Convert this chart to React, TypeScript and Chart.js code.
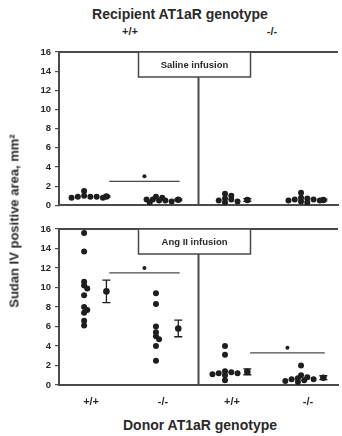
import React, { useEffect, useRef } from "react";
import { Chart, registerables } from "chart.js";
Chart.register(...registerables);

// ---------- data ----------
const donorLabels = ["+/+", "-/-", "+/+", "-/-"];
const recipientLabels = ["+/+", "-/-"];
const groupCenters = [0.36, 1.39, 2.38, 3.47];
const meanOffset = 0.32;
const yMax = 16;

// Saline infusion panel
const salineWtDonorWtRec = [0.9, 0.8, 1.0, 1.5, 0.9, 0.8, 0.9];
const salineKoDonorWtRec = [0.4, 0.6, 0.8, 0.5, 0.9, 0.6, 0.3, 0.5];
const salineWtDonorKoRec = [1.2, 1.0, 0.6, 0.4, 0.3, 0.7, 0.5];
const salineKoDonorKoRec = [0.3, 0.6, 0.8, 1.3, 0.7, 0.5, 0.4, 0.6, 0.5];
const salineMeans = [0.92, 0.58, 0.55, 0.55];
const salineSem = [0.08, 0.08, 0.15, 0.08];
const salineSig = [{ from: 0, to: 1, y: 2.5 }];

// Ang II infusion panel
const angWtDonorWtRec = [15.6, 13.7, 10.6, 10.2, 9.9, 9.2, 8.0, 7.7, 7.4, 6.6, 6.1];
const angKoDonorWtRec = [9.4, 8.3, 6.0, 5.4, 5.0, 4.7, 4.0, 2.5];
const angWtDonorKoRec = [4.0, 3.1, 1.4, 1.3, 1.2, 1.2, 1.1, 1.0, 0.5];
const angKoDonorKoRec = [2.0, 1.0, 0.8, 0.7, 0.6, 0.6, 0.5, 0.4, 0.3];
const angMeans = [9.6, 5.8, 1.35, 0.75];
const angSem = [1.15, 0.85, 0.3, 0.2];
const angSig = [
  { from: 0, to: 1, y: 11.5 },
  { from: 2, to: 3, y: 3.3 },
];

// ---------- helpers ----------
const INK = "#1e1e1e";
const LINE = "#4a4a4a";
const FONT = "'Liberation Sans', Arial, sans-serif";

function swarm(values: number[], center: number) {
  const pxX = 70.75, pxY = 9.8, minDist = 3.8, step = 0.045;
  const placed: { x: number; y: number }[] = [];
  const out: { x: number; y: number }[] = new Array(values.length);
  const order = values.map((_, i) => i).sort((a, b) => values[b] - values[a]);
  for (const i of order) {
    const y = values[i];
    for (let k = 0; k < 60; k++) {
      const off = k === 0 ? 0 : (k % 2 ? 1 : -1) * Math.ceil(k / 2) * step;
      const x = center + off;
      const ok = placed.every(
        (p) => Math.hypot((p.x - x) * pxX, (p.y - y) * pxY) >= minDist
      );
      if (ok) {
        placed.push({ x, y });
        out[i] = { x, y };
        break;
      }
    }
  }
  return out;
}

const panelPlugin = {
  id: "panelDecor",
  afterDatasetsDraw(chart: any, _args: any, opts: any) {
    const { ctx, chartArea, scales } = chart;
    const xs = scales.x, ys = scales.y;
    ctx.save();
    // error bars
    ctx.strokeStyle = INK;
    ctx.lineWidth = 1.3;
    (opts.means as number[]).forEach((m, g) => {
      const s = opts.sems[g];
      const px = xs.getPixelForValue(groupCenters[g] + meanOffset);
      const top = ys.getPixelForValue(m + s);
      const bot = ys.getPixelForValue(m - s);
      ctx.beginPath();
      ctx.moveTo(px, top); ctx.lineTo(px, bot);
      ctx.moveTo(px - 4, top); ctx.lineTo(px + 4, top);
      ctx.moveTo(px - 4, bot); ctx.lineTo(px + 4, bot);
      ctx.stroke();
    });
    // significance bars
    ctx.strokeStyle = LINE;
    ctx.lineWidth = 1.2;
    (opts.sig as any[]).forEach((sg) => {
      const x1 = xs.getPixelForValue(groupCenters[sg.from] + meanOffset + 0.04);
      const x2 = xs.getPixelForValue(groupCenters[sg.to] + meanOffset + 0.02);
      const py = ys.getPixelForValue(sg.y);
      ctx.beginPath();
      ctx.moveTo(x1, py); ctx.lineTo(x2, py);
      ctx.stroke();
      ctx.fillStyle = INK;
      ctx.beginPath();
      ctx.arc((x1 + x2) / 2, py - 5, 2, 0, Math.PI * 2);
      ctx.fill();
    });
    // frame: top line and divider
    ctx.strokeStyle = LINE;
    ctx.lineWidth = 2;
    ctx.beginPath();
    ctx.moveTo(chartArea.left, chartArea.top);
    ctx.lineTo(chartArea.right, chartArea.top);
    const dx = xs.getPixelForValue(2);
    ctx.moveTo(dx, chartArea.top);
    ctx.lineTo(dx, chartArea.bottom);
    ctx.stroke();
    // label box
    const bw = 112, bh = 25;
    const bx = dx - 60;
    ctx.fillStyle = "#ffffff";
    ctx.fillRect(bx, chartArea.top, bw, bh);
    ctx.lineWidth = 1.5;
    ctx.strokeRect(bx, chartArea.top, bw, bh);
    ctx.fillStyle = "#2a2a2a";
    ctx.font = `bold 9.5px ${FONT}`;
    ctx.textAlign = "center";
    ctx.textBaseline = "middle";
    ctx.fillText(opts.label, bx + bw / 2, chartArea.top + bh / 2 + 1);
    ctx.restore();
  },
};

function makeConfig(
  groups: number[][],
  means: number[],
  sems: number[],
  sig: any[],
  label: string,
  showX: boolean,
  padTop: number,
  padBottom: number
): any {
  const datasets: any[] = groups.map((vals, g) => ({
    type: "scatter",
    data: swarm(vals, groupCenters[g]),
    pointRadius: 3,
    backgroundColor: INK,
    borderWidth: 0,
  }));
  datasets.push({
    type: "scatter",
    data: means.map((m, g) => ({ x: groupCenters[g] + meanOffset, y: m })),
    pointRadius: 3.3,
    backgroundColor: INK,
    borderWidth: 0,
  });
  return {
    type: "scatter",
    data: { datasets },
    plugins: [panelPlugin],
    options: {
      animation: false,
      responsive: false,
      layout: { padding: { top: padTop, bottom: padBottom, left: 0, right: 0 } },
      plugins: {
        legend: { display: false },
        tooltip: { enabled: false },
        panelDecor: { means, sems, sig, label },
      },
      scales: {
        x: {
          type: "linear",
          min: 0,
          max: 4,
          grid: { display: false, drawTicks: false },
          border: { display: true, color: LINE, width: 2 },
          ticks: {
            display: showX,
            color: "#2a2a2a",
            font: { family: FONT, size: 11, weight: "bold" },
            padding: 10,
            callback: (_v: any, i: number) => donorLabels[i],
          },
          afterBuildTicks: (scale: any) => {
            scale.ticks = groupCenters.map((c) => ({ value: c + 0.1 }));
          },
          afterFit: (scale: any) => {
            scale.height = showX ? 30 : 0;
          },
        },
        y: {
          type: "linear",
          min: 0,
          max: yMax,
          grid: { drawOnChartArea: false, tickLength: 4, color: LINE, lineWidth: 1.2 },
          border: { display: true, color: LINE, width: 2 },
          ticks: {
            stepSize: 1,
            color: "#2a2a2a",
            padding: 4,
            font: { family: FONT, size: 9.5, weight: "bold" },
            callback: (v: any) => (v % 2 === 0 ? String(v) : ""),
          },
          afterFit: (scale: any) => {
            scale.width = 59;
          },
        },
      },
    },
  };
}

function Panel(props: {
  top: number;
  height: number;
  config: any;
}) {
  const ref = useRef<HTMLCanvasElement>(null);
  useEffect(() => {
    if (!ref.current) return;
    const chart = new Chart(ref.current, props.config);
    return () => chart.destroy();
  }, []);
  return (
    <canvas
      ref={ref}
      width={342}
      height={props.height}
      style={{ position: "absolute", left: 0, top: props.top, width: 342, height: props.height }}
    />
  );
}

function Label(props: { x: number; y: number; size: number; text: string; rotate?: boolean }) {
  return (
    <div
      style={{
        position: "absolute",
        left: props.x,
        top: props.y,
        transform: `translate(-50%, -50%)${props.rotate ? " rotate(-90deg)" : ""}`,
        whiteSpace: "nowrap",
        fontFamily: FONT,
        fontWeight: "bold",
        fontSize: props.size,
        color: "#2a2a2a",
        lineHeight: 1,
      }}
    >
      {props.text}
    </div>
  );
}

export default function App() {
  const salineCfg = makeConfig(
    [salineWtDonorWtRec, salineKoDonorWtRec, salineWtDonorKoRec, salineKoDonorKoRec],
    salineMeans,
    salineSem,
    salineSig,
    "Saline infusion",
    false,
    12,
    7
  );
  const angCfg = makeConfig(
    [angWtDonorWtRec, angKoDonorWtRec, angWtDonorKoRec, angKoDonorKoRec],
    angMeans,
    angSem,
    angSig,
    "Ang II infusion",
    true,
    14,
    0
  );
  return (
    <div
      style={{
        position: "absolute",
        left: 0,
        top: 0,
        width: 342,
        height: 436,
        background: "#ffffff",
        overflow: "hidden",
      }}
    >
      <Label x={180} y={14} size={14} text="Recipient AT1aR genotype" />
      <Label x={130} y={31} size={11} text={recipientLabels[0]} />
      <Label x={272} y={31} size={11} text={recipientLabels[1]} />
      <Panel top={40} height={175} config={salineCfg} />
      <Panel top={215} height={200} config={angCfg} />
      <Label x={14} y={221} size={13} text="Sudan IV positive area, mm²" rotate />
      <Label x={200} y={425} size={14} text="Donor AT1aR genotype" />
    </div>
  );
}
